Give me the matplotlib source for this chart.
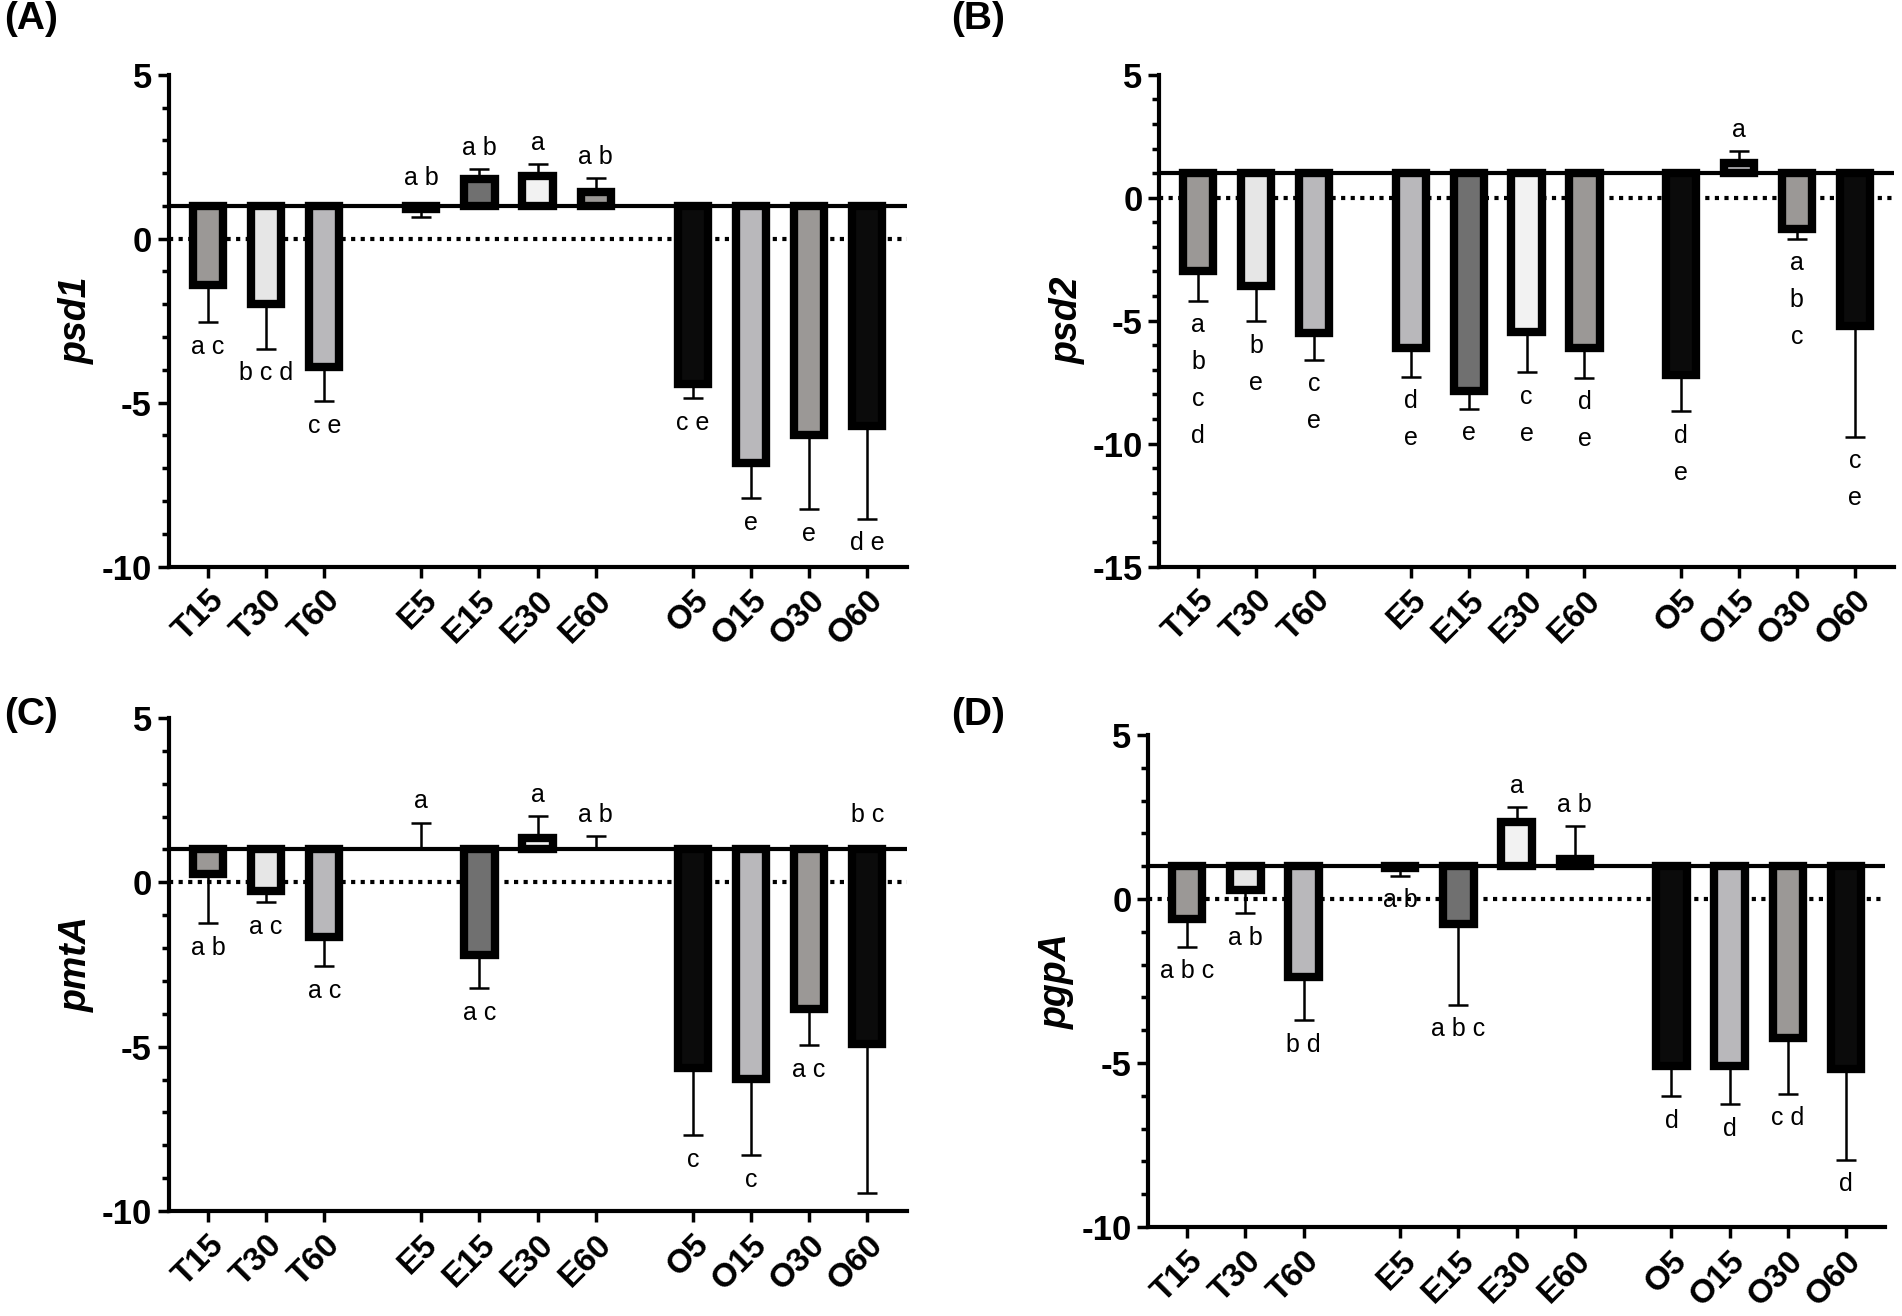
import numpy as np
import matplotlib
matplotlib.use("Agg")
import matplotlib.pyplot as plt
from matplotlib.ticker import MultipleLocator

plt.rcParams['font.family'] = ['Liberation Sans', 'DejaVu Sans']
plt.rcParams['axes.unicode_minus'] = False

# ---- data (fold change, bars start at 1) ----
categories = ["T15", "T30", "T60", "E5", "E15", "E30", "E60", "O5", "O15", "O30", "O60"]
group_sizes = [3, 4, 4]
fills = ["#9b9896", "#e6e6e6", "#b9b8bb", "#b9b8bb", "#707070", "#f2f2f2",
         "#9b9896", "#0b0b0b", "#b9b8bb", "#9b9896", "#0b0b0b"]

psd1_mean = [-1.40, -1.98, -3.91, 0.89, 1.81, 1.92, 1.42, -4.43, -6.83, -5.98, -5.71]
psd1_err = [1.15, 1.38, 1.05, 0.24, 0.31, 0.37, 0.42, 0.43, 1.09, 2.27, 2.84]
psd1_letters = ["a c", "b c d", "c e", "a b", "a b", "a", "a b", "c e", "e", "e", "d e"]

psd2_mean = [-3.00, -3.60, -5.51, -6.12, -7.86, -5.47, -6.12, -7.20, 1.40, -1.29, -5.20]
psd2_err = [1.20, 1.42, 1.08, 1.17, 0.72, 1.63, 1.20, 1.49, 0.51, 0.37, 4.53]
psd2_letters = ["a\nb\nc\nd", "b\ne", "c\ne", "d\ne", "e", "c\ne", "d\ne", "d\ne", "a", "a\nb\nc", "c\ne"]

pmtA_mean = [0.26, -0.25, -1.65, 1.00, -2.20, 1.36, 1.00, -5.66, -5.99, -3.84, -4.91]
pmtA_err = [1.50, 0.35, 0.91, 0.82, 1.02, 0.65, 0.40, 2.04, 2.31, 1.12, 4.54]
pmtA_letters = ["a b", "a c", "a c", "a", "a c", "a", "a b", "c", "c", "a c", "b c"]

pgpA_mean = [-0.60, 0.27, -2.39, 0.95, -0.77, 2.35, 1.23, -5.10, -5.08, -4.23, -5.17]
pgpA_err = [0.86, 0.70, 1.30, 0.24, 2.46, 0.44, 0.99, 0.92, 1.17, 1.71, 2.78]
pgpA_letters = ["a b c", "a b", "b d", "a b", "a b c", "a", "a b", "d", "d", "c d", "d"]

# letters that the authors placed above the baseline instead of below the bar
label_above = {("A", "E5"): 1.2, ("C", "O60"): 1.4}

panels = [
    ("A", "psd1", psd1_mean, psd1_err, psd1_letters, (-10, 5), [0.0886, 0.5695, 0.3881, 0.3737]),
    ("B", "psd2", psd2_mean, psd2_err, psd2_letters, (-15, 5), [0.6094, 0.5695, 0.3864, 0.3737]),
    ("C", "pmtA", pmtA_mean, pmtA_err, pmtA_letters, (-10, 5), [0.0886, 0.0798, 0.3881, 0.3746]),
    ("D", "pgpA", pgpA_mean, pgpA_err, pgpA_letters, (-10, 5), [0.6036, 0.0676, 0.3875, 0.3739]),
]
panel_label_pos = {"A": (0.002, 0.999), "B": (0.500, 0.999), "C": (0.002, 0.470), "D": (0.500, 0.470)}

# x positions with a gap between the T / E / O groups
gap = 0.667
xpos = []
start = 0.0
for n in group_sizes:
    xpos += [start + i for i in range(n)]
    start += n + gap
xpos = np.array(xpos)

fig = plt.figure(figsize=(19.02, 13.16), dpi=100)

for key, gene, mean, err, letters, ylim, rect in panels:
    ax = fig.add_axes(rect)
    mean = np.array(mean)
    err = np.array(err)
    down = mean < 1
    lower = np.where(down, err, 0)
    upper = np.where(down, 0, err)

    ax.axhline(0, color="black", lw=3, dashes=(1, 1.3), zorder=1)
    ax.errorbar(xpos, mean, yerr=[lower, upper], fmt="none", ecolor="black",
                elinewidth=1.8, capsize=7.5, capthick=1.8, zorder=2)
    keep = mean != 1
    ax.bar(xpos[keep], mean[keep] - 1, bottom=1, width=0.52,
           color=np.array(fills)[keep], edgecolor="black", linewidth=6, zorder=3)
    ax.axhline(1, color="black", lw=3, zorder=4)

    for i, cat in enumerate(categories):
        if (key, cat) in label_above:
            ax.annotate(letters[i], (xpos[i], label_above[(key, cat)]), xytext=(0, 6.5),
                        textcoords="offset points", ha="center", va="bottom", fontsize=18)
        elif down[i]:
            ax.annotate(letters[i], (xpos[i], mean[i] - err[i]), xytext=(0, -9),
                        textcoords="offset points", ha="center", va="top", fontsize=18,
                        linespacing=1.68)
        else:
            ax.annotate(letters[i], (xpos[i], mean[i] + err[i]), xytext=(0, 6.5),
                        textcoords="offset points", ha="center", va="bottom", fontsize=18)

    ax.set_xlim(xpos[0] - 0.677, xpos[-1] + 0.677)
    ax.set_ylim(*ylim)
    ax.yaxis.set_major_locator(MultipleLocator(5))
    ax.yaxis.set_minor_locator(MultipleLocator(1))
    ax.set_xticks(xpos)
    ax.set_xticklabels(categories, fontsize=24, fontweight="bold",
                       rotation=45, ha="right", rotation_mode="anchor")
    for lab in ax.get_yticklabels():
        lab.set_fontsize(25)
        lab.set_fontweight("bold")
    for s in ["top", "right"]:
        ax.spines[s].set_visible(False)
    for s in ["left", "bottom"]:
        ax.spines[s].set_linewidth(3)
    ax.tick_params(axis="both", which="major", length=8, width=2.5, direction="out")
    ax.tick_params(axis="y", which="minor", length=5, width=2.5, direction="out")
    ax.tick_params(axis="y", which="major", pad=4)
    ax.tick_params(axis="x", which="major", pad=5)
    ax.set_ylabel(gene, fontsize=27, fontweight="bold", fontstyle="italic")
    ax.yaxis.set_label_coords(-0.10, 0.5)

    fx, fy = panel_label_pos[key]
    fig.text(fx, fy, f"({key})", fontsize=28, fontweight="bold", ha="left", va="top")

fig.savefig("out.png", dpi=100)
